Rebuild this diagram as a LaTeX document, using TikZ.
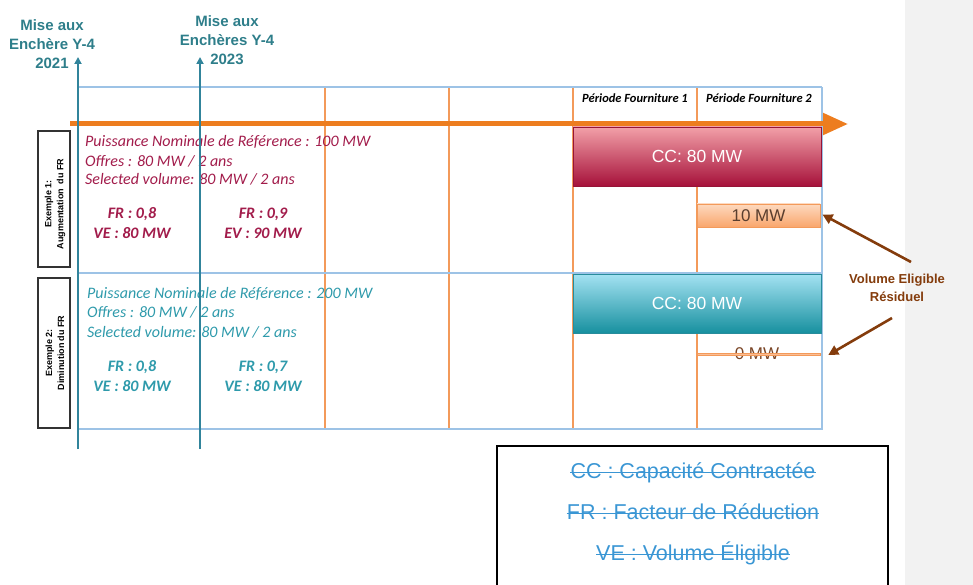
\documentclass[tikz,border=0pt]{standalone}
\usepackage{fontspec}
\setmainfont{Liberation Sans}
\newfontfamily\calfont{Carlito}
\usetikzlibrary{arrows.meta}
\definecolor{tealline}{HTML}{31849B}
\definecolor{teallabel}{HTML}{2E7E8A}
\definecolor{crimsontxt}{HTML}{A21C4B}
\definecolor{tealtxt}{HTML}{2E9AAB}
\definecolor{brownc}{HTML}{843C0C}
\definecolor{orangearrow}{HTML}{ED7D1F}
\definecolor{gridblue}{HTML}{9DC3E6}
\definecolor{gridorange}{HTML}{F39A5A}
\definecolor{legendblue}{HTML}{3A96D4}
\definecolor{panelgray}{HTML}{F2F2F2}
\definecolor{mwtxt}{HTML}{5A3E2E}
\definecolor{mwbrown}{HTML}{7A4526}
\tikzset{
  bluegrid/.style={draw=gridblue,line width=1.2pt},
  orangegrid/.style={draw=gridorange,line width=1.1pt},
  miselabel/.style={font=\fontsize{15}{19}\selectfont\bfseries,text=teallabel,align=center,inner sep=0pt},
  tealarrow/.style={draw=tealline,line width=2.6pt,-{Triangle[length=7pt,width=7pt]}},
  brownarrow/.style={draw=brownc,line width=2.6pt,-{Triangle[length=10pt,width=10pt]}},
  hdr/.style={font=\calfont\fontsize{12.5}{14}\selectfont\bfseries\itshape,inner sep=0pt},
  extxt/.style={font=\calfont\fontsize{16}{19}\selectfont\itshape,anchor=base west,inner sep=0pt},
  frtxt/.style={font=\calfont\fontsize{16}{20}\selectfont\bfseries\itshape,align=center,inner sep=0pt},
  exbox/.style={draw=black!80,line width=1.2pt,minimum width=32pt,inner sep=0pt},
  exlabel/.style={font=\fontsize{9}{12}\selectfont\bfseries,align=center,rotate=90,inner sep=0pt},
  ccbox/.style={minimum width=248pt,minimum height=59pt,inner sep=0pt,font=\fontsize{17.5}{20}\selectfont,text=white},
  legtxt/.style={font=\fontsize{21.5}{24}\selectfont,text=legendblue,anchor=base,inner sep=0pt},
  strike/.style={draw=legendblue,line width=1.6pt}
}
\begin{document}
\begin{tikzpicture}[x=1pt,y=-1pt]
\useasboundingbox (0,0) rectangle (973,585);
\fill[panelgray] (905,0) rectangle (973,585);

% grid
\foreach \xx in {325,449,573,697} \draw[orangegrid] (\xx,87) -- (\xx,429);
\draw[bluegrid] (78,87) -- (822,87);
\draw[bluegrid] (78,273) -- (822,273);
\draw[bluegrid] (78,429) -- (822,429) -- (822,87);

% header
\node[hdr] (p1) at (635,98) {Période Fourniture 1};
\node[hdr] (p2) at (759,98) {Période Fourniture 2};

% timeline arrow
\coordinate (tstart) at (70,124);
\coordinate (tend) at (848,124);
\draw[draw=orangearrow,line width=5pt,-{Triangle[length=25pt,width=21pt]}] (tstart) -- (tend);

% CC boxes
\node[ccbox,draw={rgb,255:red,150;green,20;blue,55},top color={rgb,255:red,242;green,160;blue,168},bottom color={rgb,255:red,166;green,17;blue,58}] (cc1) at (697,156.5) {CC: 80 MW};
\node[ccbox,draw={rgb,255:red,40;green,140;blue,155},top color={rgb,255:red,164;green,226;blue,242},bottom color={rgb,255:red,23;green,144;blue,159}] (cc2) at (697,303.5) {CC: 80 MW};
\node[minimum width=123pt,minimum height=23pt,inner sep=0pt,draw=gridorange,line width=0.9pt,top color={rgb,255:red,253;green,217;blue,191},bottom color={rgb,255:red,249;green,166;blue,108},font=\fontsize{17}{20}\selectfont,text=mwtxt] (mw10) at (758.5,215.5) {10 MW};
\node[font=\fontsize{17}{20}\selectfont,text=mwbrown,inner sep=0pt] (mw0) at (757,354) {0 MW};
\node[minimum width=123pt,minimum height=2.5pt,inner sep=0pt,fill={rgb,255:red,250;green,190;blue,150},draw=gridorange,line width=0.5pt] (bar0) at (758.5,354) {};

% example 1 text
\node[extxt,text=crimsontxt] (e1a) at (85,147) {Puissance Nominale de Référence : 100 MW};
\node[extxt,text=crimsontxt] (e1b) at (85,167) {Offres : 80 MW / 2 ans};
\node[extxt,text=crimsontxt] (e1c) at (85,185) {Selected volume: 80 MW / 2 ans};
\node[frtxt,text=crimsontxt] (e1d) at (132,223) {FR : 0,8\\VE : 80 MW};
\node[frtxt,text=crimsontxt] (e1e) at (263,223) {FR : 0,9\\EV : 90 MW};

% example 2 text
\node[extxt,text=tealtxt] (e2a) at (87,298) {Puissance Nominale de Référence : 200 MW};
\node[extxt,text=tealtxt] (e2b) at (87,317) {Offres : 80 MW / 2 ans};
\node[extxt,text=tealtxt] (e2c) at (87,337) {Selected volume: 80 MW / 2 ans};
\node[frtxt,text=tealtxt] (e2d) at (132,376) {FR : 0,8\\VE : 80 MW};
\node[frtxt,text=tealtxt] (e2e) at (263,376) {FR : 0,7\\VE : 80 MW};

% example side boxes
\node[exbox,minimum height=136pt] (ex1) at (54,199) {};
\node[exlabel] (ex1t) at (55,204) {Exemple 1:\\Augmentation\ \ du FR};
\node[exbox,minimum height=150pt] (ex2) at (54,353) {};
\node[exlabel] (ex2t) at (55,353) {Exemple 2:\\Diminution du FR};

% auction labels and arrows
\node[miselabel] (m1) at (52,44) {Mise aux\\Enchère Y-4\\2021};
\node[miselabel] (m2) at (227,40) {Mise aux\\Enchères Y-4\\2023};
\coordinate (b1) at (78,449);
\coordinate (t1) at (78,57);
\coordinate (b2) at (200,449);
\coordinate (t2) at (200,57);
\draw[tealarrow] (b1) -- (t1);
\draw[tealarrow] (b2) -- (t2);

% residual volume label and arrows
\node[font=\fontsize{13}{18}\selectfont\bfseries,text=brownc,align=center,inner sep=0pt] (vol) at (897,288) {Volume Eligible\\Résiduel};
\coordinate (va) at (911,262);
\coordinate (vb) at (892,318);
\draw[brownarrow] (va) -- ([xshift=2pt,yshift=1pt]mw10.east);
\draw[brownarrow] (vb) -- ([xshift=8pt,yshift=-1pt]bar0.east);

% legend
\draw[black,line width=1.5pt] (497,446) rectangle (888,600);
\node[legtxt] (l1) at (693,478) {CC : Capacité Contractée};
\node[legtxt] (l2) at (693,519) {FR : Facteur de Réduction};
\node[legtxt] (l3) at (693,560) {VE : Volume Éligible};
\foreach \n in {l1,l2,l3}
  \draw[strike] ([yshift=5.5pt]\n.base west) -- ([yshift=5.5pt]\n.base east);
\end{tikzpicture}
\end{document}
